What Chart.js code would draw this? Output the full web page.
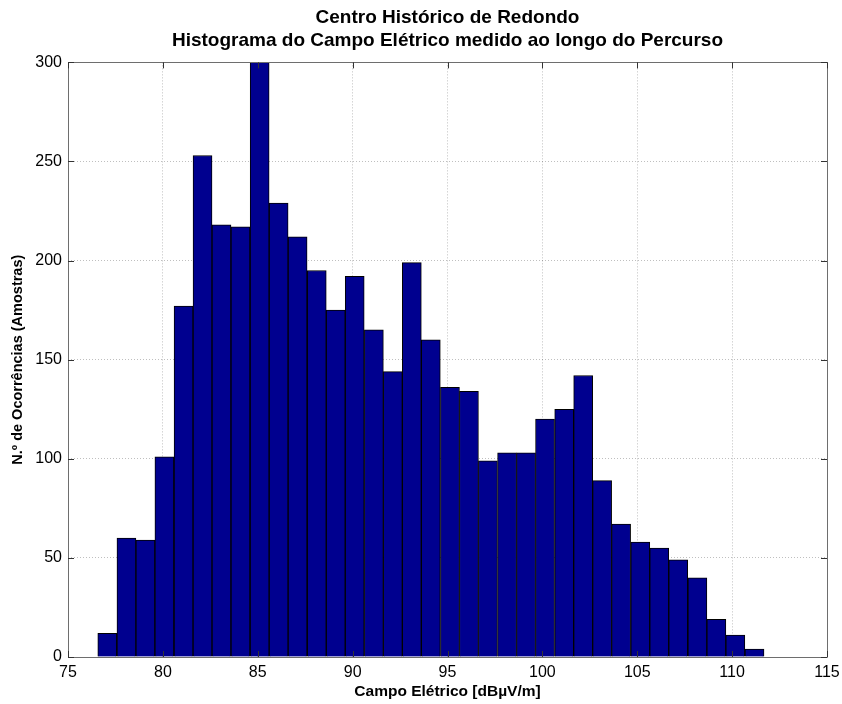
<!DOCTYPE html>
<html>
<head>
<meta charset="utf-8">
<script src="https://cdn.jsdelivr.net/npm/chart.js@4.4.0/dist/chart.umd.min.js"></script>
<style>
  body { margin: 0; background: #fff; }
</style>
</head>
<body>
<canvas id="histChart" width="842" height="704"></canvas>
<script>
// bin centres [dBuV/m] and counts
const binCenters = [77.07, 78.08, 79.08, 80.08, 81.09, 82.09, 83.09, 84.09, 85.10, 86.10,
                    87.10, 88.11, 89.11, 90.11, 91.12, 92.12, 93.12, 94.12, 95.13, 96.13,
                    97.13, 98.14, 99.14, 100.14, 101.15, 102.15, 103.15, 104.15, 105.16, 106.16,
                    107.16, 108.17, 109.17, 110.17, 111.18];
const counts = [12, 60, 59, 101, 177, 253, 218, 217, 300, 229,
                212, 195, 175, 192, 165, 144, 199, 160, 136, 134,
                99, 103, 103, 120, 125, 142, 89, 67, 58, 55,
                49, 40, 19, 11, 4];
const xTicks = [75, 80, 85, 90, 95, 100, 105, 110, 115];
const yTicks = [0, 50, 100, 150, 200, 250, 300];
const titleLines = ["Centro Histórico de Redondo", "Histograma do Campo Elétrico medido ao longo do Percurso"];
const xLabel = "Campo Elétrico [dBµV/m]";
const yLabel = "N.º de Ocorrências (Amostras)";

const FONT = "'Liberation Sans', Arial, Helvetica, sans-serif";

// box round the plot and inward ticks, matlab style
const frame = {
  id: 'frame',
  afterDatasetsDraw(chart) {
    const ctx = chart.ctx;
    const a = chart.chartArea;
    const x = chart.scales.x, y = chart.scales.y;
    const len = 6;
    ctx.save();
    ctx.strokeStyle = '#6e6e6e';
    ctx.lineWidth = 1;
    ctx.beginPath();
    ctx.rect(Math.round(a.left) + 0.5, Math.round(a.top) + 0.5,
             Math.round(a.right - a.left), Math.round(a.bottom - a.top));
    ctx.stroke();
    ctx.strokeStyle = '#333';
    ctx.beginPath();
    xTicks.forEach(v => {
      const px = Math.round(x.getPixelForValue(v)) + 0.5;
      ctx.moveTo(px, a.top); ctx.lineTo(px, a.top + len);
      ctx.moveTo(px, a.bottom); ctx.lineTo(px, a.bottom - len);
    });
    yTicks.forEach(v => {
      const py = Math.round(y.getPixelForValue(v)) + 0.5;
      ctx.moveTo(a.left, py); ctx.lineTo(a.left + len, py);
      ctx.moveTo(a.right, py); ctx.lineTo(a.right - len, py);
    });
    ctx.stroke();
    ctx.restore();
  }
};

const points = binCenters.map((c, i) => ({x: c, y: counts[i]}));

new Chart(document.getElementById('histChart'), {
  type: 'bar',
  data: {
    datasets: [{
      data: points,
      backgroundColor: '#00008f',
      borderColor: '#000000',
      borderWidth: 1,
      barPercentage: 1.0,
      categoryPercentage: 1.0
    }]
  },
  options: {
    responsive: false,
    animation: false,
    layout: { padding: { left: 0, right: 15, top: 0, bottom: 0 } },
    plugins: {
      legend: { display: false },
      tooltip: { enabled: false },
      title: {
        display: true,
        fullSize: false,
        text: titleLines,
        color: '#000',
        font: { family: FONT, size: 19, weight: 'bold', lineHeight: 1.22 },
        padding: { top: 6, bottom: 10 }
      }
    },
    scales: {
      x: {
        type: 'linear',
        min: 75,
        max: 115,
        offset: false,
        grid: { color: 'rgba(0,0,0,0.25)', drawTicks: false, offset: false },
        border: { display: false, dash: [1, 2] },
        afterBuildTicks: s => { s.ticks = xTicks.map(v => ({value: v})); },
        ticks: { color: '#000', padding: 6, maxRotation: 0, font: { family: FONT, size: 16 } },
        title: {
          display: true, text: xLabel, color: '#000',
          font: { family: FONT, size: 15.5, weight: 'bold' },
          padding: { top: 0, bottom: 3 }
        },
        afterFit: s => { s.height = 47; s.paddingRight = 0; }
      },
      y: {
        min: 0,
        max: 300,
        grid: { color: 'rgba(0,0,0,0.25)', drawTicks: false },
        border: { display: false, dash: [1, 2] },
        afterBuildTicks: s => { s.ticks = yTicks.map(v => ({value: v})); },
        ticks: { color: '#000', padding: 6, font: { family: FONT, size: 16 } },
        title: {
          display: true, text: yLabel, color: '#000',
          font: { family: FONT, size: 14.5, weight: 'bold' },
          padding: { top: 9, bottom: 0 }
        },
        afterFit: s => { s.width = 68; }
      }
    }
  },
  plugins: [frame]
});
</script>
</body>
</html>
